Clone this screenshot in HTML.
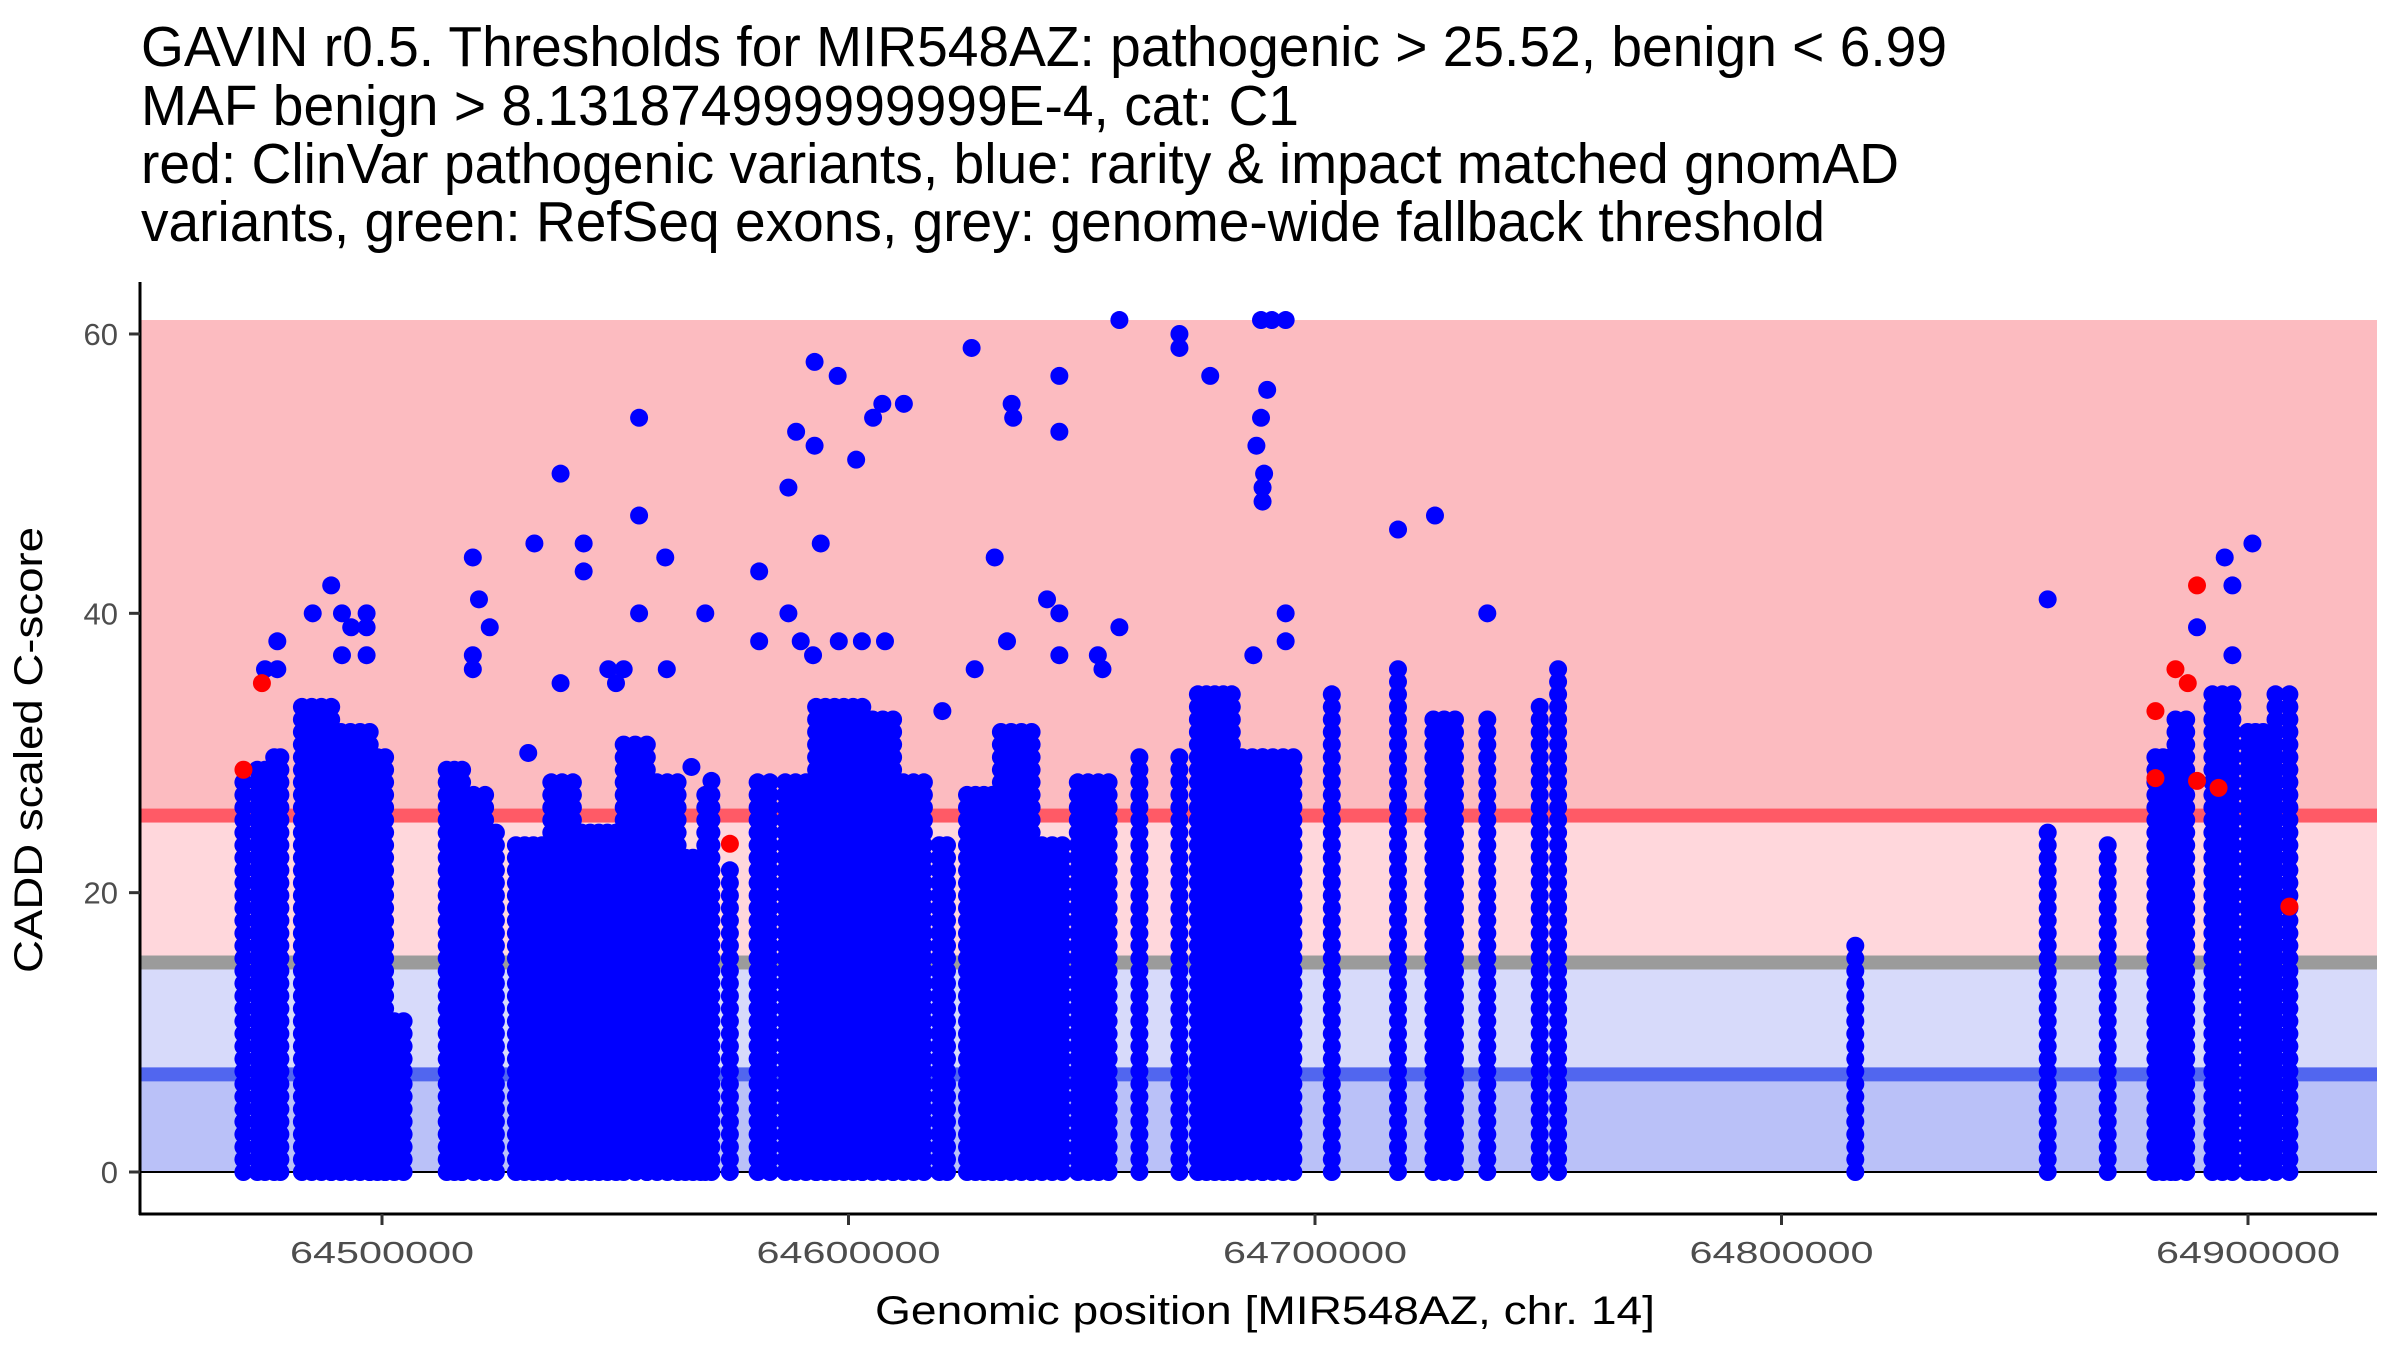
<!DOCTYPE html>
<html><head><meta charset="utf-8"><style>
html,body{margin:0;padding:0;background:#fff;}
svg{display:block;}
text{font-family:"Liberation Sans",Arial,sans-serif;}
</style></head><body>
<svg id="chart" width="2400" height="1350" viewBox="0 0 2400 1350" xmlns="http://www.w3.org/2000/svg">
<g font-size="57" fill="#000">
<text x="141" y="66" textLength="1806" lengthAdjust="spacingAndGlyphs">GAVIN r0.5. Thresholds for MIR548AZ: pathogenic &gt; 25.52, benign &lt; 6.99</text>
<text x="141" y="125" textLength="1158" lengthAdjust="spacingAndGlyphs">MAF benign &gt; 8.131874999999999E-4, cat: C1</text>
<text x="141" y="183" textLength="1758" lengthAdjust="spacingAndGlyphs">red: ClinVar pathogenic variants, blue: rarity &amp; impact matched gnomAD</text>
<text x="141" y="241" textLength="1684" lengthAdjust="spacingAndGlyphs">variants, green: RefSeq exons, grey: genome-wide fallback threshold</text>
</g>
<g id="bands"></g>
<g id="points"></g>
<g id="axes"></g>
<text x="42" y="750" font-size="40" text-anchor="middle" transform="rotate(-90 42 750)" textLength="446" lengthAdjust="spacingAndGlyphs">CADD scaled C-score</text>
<text x="1265" y="1324" font-size="40" text-anchor="middle" textLength="780" lengthAdjust="spacingAndGlyphs">Genomic position [MIR548AZ, chr. 14]</text>
</svg>
<script>
// ---- data ----
const xTicks = [64500000, 64600000, 64700000, 64800000, 64900000];
const yTicks = [0, 20, 40, 60];
const pathogenicThreshold = 25.52;
const benignThreshold = 6.99;
const fallbackThreshold = 15;
const scoreMax = 61;
// dense gnomAD regions: start bp, end bp, top score (filled from 0)
const regionStart = [64470300,64473270,64476900,64482840,64489110,64497360,64500660,64513860,64517160,64522110,64528710,64536300,64540920,64551810,64556760,64565010,64569300,64574580,64580520,64586460,64593060,64602960,64609560,64619460,64625400,64632660,64639260,64649160,64662360,64670940,64674900,64682160,64688760,64703610,64717800,64725390,64736940,64748160,64752120,64815810,64857060,64869930,64880160,64884450,64892370,64899960,64905900];
const regionEnd   = [64470300,64474920,64478220,64489110,64497360,64500660,64504620,64517160,64522110,64524420,64534320,64540920,64550160,64556760,64563360,64568310,64570620,64574580,64583160,64593060,64602960,64609560,64616160,64621110,64632660,64639260,64645860,64655760,64662360,64670940,64682160,64688760,64695360,64703610,64717800,64730010,64736940,64748160,64752120,64815810,64857060,64869930,64883460,64886760,64896660,64903260,64908870];
const regionTop   = [28,29,30,34,32,30,11,29,27,25,24,28,25,31,28,23,27,22,28,28,34,33,28,24,27,32,24,28,30,30,35,30,30,35,36,33,33,34,36,17,25,24,30,33,35,32,35];
// sparse gnomAD outliers
const outlierPos = [64474920,64477560,64477560,64485150,64489110,64491420,64493400,64496700,64496700,64491420,64496700,
 64519470,64520790,64523100,64519470,64519470,64532670,64531350,64538280,64543230,64543230,64538280,64548510,64550160,
 64555110,64555110,64555110,64560720,64561050,64551810,64569300,64566330,64570620,64580850,64580850,
 64587120,64588770,64592730,64592730,64594050,64597680,64601640,64605270,64607250,64611870,64587120,64589760,64597920,64602870,64607820,64592400,
 64620120,64626390,64631340,64634970,64635300,64642560,64645200,64645200,64627050,64633980,64645200,64645200,
 64653450,64658070,64654440,64658070,64670940,64670940,64677540,
 64688430,64690740,64693710,64689750,64688430,64687440,64689090,64688760,64688760,64693710,64686780,64693710,
 64717800,64725720,64736940,64857060,64889070,64895010,64896660,64896660,64900950];
const outlierScore = [36,36,38,40,42,40,39,40,39,37,37,
 44,41,39,37,36,45,30,50,45,43,35,36,35,
 54,47,40,44,36,36,40,29,28,43,38,
 49,53,52,58,45,57,51,54,55,55,40,38,38,38,38,37,
 33,59,44,55,54,41,53,57,36,38,40,37,
 37,39,36,61,60,59,57,
 61,61,61,56,54,52,50,48,49,40,37,38,
 46,47,40,41,39,44,42,37,45];
// ClinVar pathogenic variants
const redPos = [64470300,64474260,64574580,64880160,64880160,64884450,64887090,64889070,64889070,64893690,64908870];
const redScore = [28.8,35,23.5,33,28.2,36,35,28,42,27.5,19];

// ---- scales ----
function xPx(bp){ return 382 + (bp - 64500000) * 0.004665; }
function yPx(v){ return 1172 - v * 13.967; }
const NS = 'http://www.w3.org/2000/svg';
function mk(tag, attrs, parent){ const e = document.createElementNS(NS, tag); for (const k in attrs) e.setAttribute(k, attrs[k]); parent.appendChild(e); return e; }
const L = 141, R = 2377;
const bands = document.getElementById('bands');
function band(lo, hi, color, name){
  const r = mk('rect', {x:L, y:yPx(hi), width:R-L, height:yPx(lo)-yPx(hi), fill:color}, bands);
  
  
}
band(pathogenicThreshold, scoreMax, '#fcbbc0', 'pathogenic-band');
band(fallbackThreshold, pathogenicThreshold, '#ffd7dc', 'uncertain-band-high');
band(benignThreshold, fallbackThreshold, '#d7dafa', 'uncertain-band-low');
band(0, benignThreshold, '#bac1f8', 'benign-band');
band(pathogenicThreshold-0.5, pathogenicThreshold+0.5, '#ff5a66', 'pathogenic-threshold-line');
band(fallbackThreshold-0.5, fallbackThreshold+0.5, '#9b9b9b', 'fallback-threshold-line');
band(benignThreshold-0.5, benignThreshold+0.5, '#5166ef', 'benign-threshold-line');
const zl = mk('line', {x1:L, x2:R, y1:yPx(0), y2:yPx(0), stroke:'#000', 'stroke-width':2}, bands);



const pts = document.getElementById('points');
const r = 9;
for (let i = 0; i < regionStart.length; i++){
  const s = regionStart[i], e = regionEnd[i];
  const n = Math.max(0, Math.round((e - s) / 2000));
  for (let c = 0; c <= n; c++){
    const bp = n === 0 ? s : s + (e - s) * c / n;
    for (let v = 0; v <= regionTop[i]; v += 0.9){
      const d = mk('circle', {cx:xPx(bp).toFixed(1), cy:yPx(v).toFixed(1), r:r, fill:'#0000ff'}, pts);
      
      
    }
  }
}
for (let i = 0; i < outlierPos.length; i++){
  const d = mk('circle', {cx:xPx(outlierPos[i]), cy:yPx(outlierScore[i]), r:r, fill:'#0000ff'}, pts);
  
  
}
for (let i = 0; i < redPos.length; i++){
  const d = mk('circle', {cx:xPx(redPos[i]), cy:yPx(redScore[i]), r:r, fill:'#ff0000'}, pts);
  
  
}

const ax = document.getElementById('axes');
const ya = mk('line', {x1:140, x2:140, y1:282, y2:1215, stroke:'#000', 'stroke-width':3}, ax);


const xa = mk('line', {x1:139, x2:R, y1:1214, y2:1214, stroke:'#000', 'stroke-width':3}, ax);


yTicks.forEach(v => {
  const t = mk('line', {x1:129, x2:140, y1:yPx(v), y2:yPx(v), stroke:'#333', 'stroke-width':3}, ax);
  
  
  const tx = mk('text', {x:118, y:yPx(v)+11, 'font-size':31, fill:'#4d4d4d', 'text-anchor':'end'}, ax);
  
  
  tx.textContent = v;
});
xTicks.forEach(v => {
  const t = mk('line', {x1:xPx(v), x2:xPx(v), y1:1214, y2:1225, stroke:'#333', 'stroke-width':3}, ax);
  
  
  const tx = mk('text', {x:xPx(v), y:1263, 'font-size':31, fill:'#4d4d4d', 'text-anchor':'middle', textLength:184, lengthAdjust:'spacingAndGlyphs'}, ax);
  
  
  tx.textContent = v;
});
</script>
</body></html>
